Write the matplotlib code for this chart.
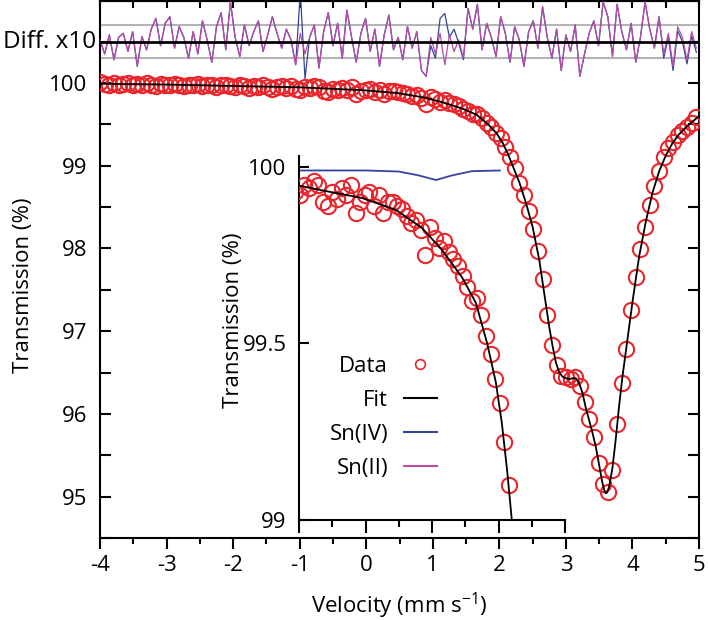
import numpy as np
import matplotlib
matplotlib.use("Agg")
import matplotlib.pyplot as plt
from matplotlib.lines import Line2D
from matplotlib.ticker import MultipleLocator

plt.rcParams['font.family'] = ['Open Sans', 'DejaVu Sans']
plt.rcParams['font.size'] = 16
plt.rcParams['axes.unicode_minus'] = False
plt.rcParams['mathtext.fontset'] = 'custom'
plt.rcParams['mathtext.rm'] = 'Open Sans'
plt.rcParams['mathtext.default'] = 'rm'

# ---------------------------------------------------------------
# Data
# ---------------------------------------------------------------
velocity = [
    -4.00, -3.93, -3.86, -3.79, -3.72, -3.65, -3.58, -3.51, -3.44, -3.37,
    -3.30, -3.23, -3.16, -3.09, -3.02, -2.95, -2.88, -2.81, -2.74, -2.67,
    -2.60, -2.53, -2.46, -2.39, -2.32, -2.25, -2.18, -2.11, -2.04, -1.97,
    -1.90, -1.83, -1.76, -1.69, -1.62, -1.55, -1.48, -1.41, -1.34, -1.27,
    -1.20, -1.13, -1.06, -0.99, -0.92, -0.85, -0.78, -0.71, -0.64, -0.57,
    -0.50, -0.43, -0.36, -0.29, -0.22, -0.15, -0.08, -0.01, 0.06, 0.13,
    0.20, 0.27, 0.34, 0.41, 0.48, 0.55, 0.62, 0.69, 0.76, 0.83,
    0.90, 0.97, 1.04, 1.11, 1.18, 1.25, 1.32, 1.39, 1.46, 1.53,
    1.60, 1.67, 1.74, 1.81, 1.88, 1.95, 2.02, 2.09, 2.16, 2.23,
    2.30, 2.37, 2.44, 2.51, 2.58, 2.65, 2.72, 2.79, 2.86, 2.93,
    3.00, 3.07, 3.14, 3.21, 3.28, 3.35, 3.42, 3.49, 3.56, 3.63,
    3.70, 3.77, 3.84, 3.91, 3.98, 4.05, 4.12, 4.19, 4.26, 4.33,
    4.40, 4.47, 4.54, 4.61, 4.68, 4.75, 4.82, 4.89, 4.96,
]

transmission = [
    100.01, 99.99, 99.97, 100.00, 99.98, 99.99, 100.00, 99.97, 99.99, 99.98,
    100.00, 99.98, 99.96, 99.99, 99.98, 99.97, 99.99, 99.98, 99.96, 99.98,
    99.97, 99.99, 99.96, 99.97, 99.98, 99.95, 99.97, 99.98, 99.96, 99.95,
    99.97, 99.96, 99.94, 99.96, 99.95, 99.97, 99.95, 99.93, 99.95, 99.96,
    99.94, 99.96, 99.93, 99.92, 99.95, 99.94, 99.96, 99.95, 99.90, 99.89,
    99.93, 99.91, 99.94, 99.92, 99.95, 99.87, 99.90, 99.92, 99.93, 99.89,
    99.92, 99.87, 99.90, 99.90, 99.89, 99.88, 99.86, 99.84, 99.85, 99.82,
    99.75, 99.83, 99.80, 99.77, 99.79, 99.76, 99.74, 99.72, 99.69, 99.66,
    99.62, 99.63, 99.58, 99.52, 99.47, 99.40, 99.33, 99.22, 99.10, 98.97,
    98.79, 98.64, 98.45, 98.23, 97.97, 97.63, 97.19, 96.83, 96.59, 96.46,
    96.44, 96.42, 96.44, 96.34, 96.14, 95.94, 95.72, 95.41, 95.15, 95.06,
    95.32, 95.88, 96.37, 96.79, 97.25, 97.66, 97.99, 98.26, 98.53, 98.76,
    98.94, 99.10, 99.21, 99.29, 99.37, 99.42, 99.47, 99.52, 99.59,
]

# fitted envelope
fit_v = [
    -4.0, -3.5, -3.0, -2.5, -2.0, -1.5, -1.0, -0.55, -0.05, 0.46,
    0.85, 1.15, 1.45, 1.66, 1.83, 1.96, 2.05, 2.13, 2.2, 2.3,
    2.4, 2.5, 2.6, 2.7, 2.75, 2.8, 2.85, 2.9, 2.95, 3.0,
    3.05, 3.1, 3.15, 3.2, 3.25, 3.3, 3.4, 3.45, 3.5, 3.55,
    3.58, 3.6, 3.62, 3.65, 3.7, 3.75, 3.8, 3.85, 3.9, 3.95,
    4.0, 4.1, 4.2, 4.3, 4.4, 4.5, 4.6, 4.7, 4.8, 4.9, 5.0,
]
fit_t = [
    99.99, 99.985, 99.98, 99.972, 99.963, 99.955, 99.947, 99.93, 99.912, 99.878,
    99.827, 99.765, 99.688, 99.615, 99.50, 99.39, 99.275, 99.14, 99.0, 98.80,
    98.55, 98.26, 97.86, 97.32, 97.05, 96.82, 96.62, 96.50, 96.45, 96.43,
    96.42, 96.43, 96.43, 96.37, 96.25, 96.07, 95.77, 95.60, 95.38, 95.16,
    95.07, 95.04, 95.05, 95.12, 95.35, 95.70, 96.10, 96.45, 96.75, 97.05,
    97.35, 97.90, 98.32, 98.67, 98.93, 99.12, 99.27, 99.38, 99.46, 99.53, 99.60,
]

# Sn(IV) component shown in the inset
sn4_v = [-1.0, -0.5, 0.0, 0.5, 0.8, 1.06, 1.3, 1.6, 2.02]
sn4_t = [99.99, 99.99, 99.99, 99.987, 99.976, 99.963, 99.976, 99.988, 99.99]

# residuals x10 (one value per velocity channel)
diff_sn2 = [
    0.02, -0.15, 0.08, -0.22, 0.05, 0.10, -0.12, 0.12, -0.30, 0.06,
    -0.10, 0.15, 0.28, -0.05, 0.22, 0.30, -0.08, 0.18, 0.05, -0.20,
    0.12, -0.15, 0.25, 0.02, -0.25, 0.18, 0.35, -0.10, 0.48, 0.05,
    -0.18, 0.20, -0.05, 0.12, 0.25, -0.12, 0.08, 0.30, 0.10, -0.08,
    0.15, 0.02, -0.28, 0.10, -0.15, 0.05, 0.20, -0.32, 0.12, 0.35,
    -0.05, 0.22, -0.20, 0.38, 0.05, -0.25, 0.10, 0.28, -0.12, 0.15,
    -0.30, 0.08, 0.32, -0.10, 0.05, -0.22, 0.18, -0.08, 0.12, -0.35,
    -0.42, 0.05, -0.15, 0.10, -0.28, 0.08, -0.12, 0.02, -0.20, 0.40,
    0.15, 0.45, -0.10, 0.22, 0.05, -0.18, 0.30, 0.10, -0.25, 0.18,
    0.02, -0.30, 0.12, 0.25, -0.08, 0.42, 0.05, -0.20, 0.15, -0.35,
    0.08, -0.12, 0.20, -0.42, -0.15, 0.10, 0.25, -0.05, 0.48, 0.30,
    -0.18, 0.45, 0.12, -0.10, 0.22, -0.25, 0.05, 0.48, 0.15, -0.08,
    0.30, -0.15, 0.10, -0.30, 0.18, 0.05, -0.22, 0.12, -0.08,
]
diff_sn4 = [
    0.02, -0.15, 0.08, -0.22, 0.05, 0.10, -0.12, 0.12, -0.30, 0.06,
    -0.10, 0.15, 0.28, -0.05, 0.22, 0.30, -0.08, 0.18, 0.05, -0.20,
    0.12, -0.15, 0.25, 0.02, -0.25, 0.18, 0.35, -0.10, 0.48, 0.05,
    -0.18, 0.20, -0.05, 0.12, 0.25, -0.12, 0.08, 0.30, 0.10, -0.08,
    0.15, 0.02, -0.28, 0.60, -0.45, 0.05, 0.20, -0.32, 0.12, 0.35,
    -0.05, 0.22, -0.20, 0.38, 0.05, -0.25, 0.10, 0.28, -0.12, 0.15,
    -0.30, 0.08, 0.32, -0.10, 0.05, -0.22, 0.18, -0.08, 0.12, -0.35,
    -0.42, -0.05, -0.20, 0.28, 0.34, 0.05, 0.15, -0.02, -0.22, 0.40,
    0.15, 0.45, -0.10, 0.22, 0.05, -0.18, 0.30, 0.10, -0.25, 0.18,
    0.02, -0.30, 0.12, 0.25, -0.08, 0.42, 0.05, -0.20, 0.15, -0.35,
    0.08, -0.12, 0.20, -0.42, -0.15, 0.10, 0.25, -0.05, 0.48, 0.30,
    -0.18, 0.45, 0.12, -0.10, 0.22, -0.25, 0.05, 0.48, 0.15, -0.08,
    0.30, -0.20, 0.05, -0.35, 0.13, 0.00, -0.27, 0.07, -0.13,
]
diff_offset = 100.5
diff_guides = [-0.2, 0.2]

red = '#e8262c'
blue = '#34449e'
magenta = '#b84ca6'

fig = plt.figure(figsize=(7.08, 6.2), dpi=100)
ax = fig.add_axes([100 / 708, 82 / 620, 599 / 708, 537 / 620])

# difference panel at the top of the main axes
ax.axhline(diff_offset + diff_guides[0], color='#b4b4b4', lw=1.5, zorder=1)
ax.axhline(diff_offset + diff_guides[1], color='#b4b4b4', lw=1.5, zorder=1)
ax.plot(velocity, diff_offset + np.array(diff_sn4), color=blue, lw=0.9, zorder=2)
ax.plot(velocity, diff_offset + np.array(diff_sn2), color=magenta, lw=0.9, zorder=3)
ax.axhline(diff_offset, color='black', lw=2, zorder=4)
ax.text(-0.006, diff_offset, 'Diff. x10', transform=ax.get_yaxis_transform(),
        ha='right', va='center', fontsize=17.5)

ax.plot(velocity, transmission, 'o', ms=11, mfc='none', mec=red, mew=1.5, zorder=5)
ax.plot(fit_v, fit_t, color='black', lw=1.3, zorder=6)

ax.set_xlim(-4, 5)
ax.set_ylim(94.5, 100.99)
ax.set_xticks(range(-4, 6))
ax.set_yticks([95, 96, 97, 98, 99, 100])
ax.set_yticklabels(['95', '96', '97', '98', '99', '100'])
ax.xaxis.set_minor_locator(MultipleLocator(0.5))
ax.yaxis.set_minor_locator(MultipleLocator(0.5))
ax.tick_params(axis='x', which='major', direction='out', length=8, width=1.5, pad=4)
ax.tick_params(axis='x', which='minor', direction='out', length=4, width=1.5)
ax.tick_params(axis='y', which='both', direction='in', length=8, width=1.5,
               right=True, pad=9)
for s in ax.spines.values():
    s.set_linewidth(1.5)

top = ax.secondary_xaxis('top')
top.set_xticks(np.arange(-4, 5.01, 0.5))
top.tick_params(direction='in', length=5, width=1.5, labeltop=False)
top.spines['top'].set_linewidth(1.5)

ax.set_xlabel('Velocity (mm s$^{-1}$)', fontsize=16)
ax.xaxis.set_label_coords(0.5, -0.098)
ax.set_ylabel('Transmission (%)', fontsize=16)
ax.yaxis.set_label_coords(-0.11, 0.47)

# inset: zoom on the Sn(IV) region
ins = fig.add_axes([299 / 708, 100 / 620, 266 / 708, 364 / 620])
ins.patch.set_visible(False)
ins.plot(velocity, transmission, 'o', ms=11, mfc='none', mec=red, mew=1.5, zorder=3)
ins.plot(fit_v, fit_t, color='black', lw=1.3, zorder=4)
ins.plot(sn4_v, sn4_t, color=blue, lw=1.3, zorder=2)
ins.set_xlim(-1, 3)
ins.set_ylim(99, 100.031)
ins.set_xticks(range(-1, 4))
ins.xaxis.set_minor_locator(MultipleLocator(0.5))
ins.set_yticks([99, 99.5, 100])
ins.set_yticklabels(['99', '99.5', '100'])
ins.tick_params(axis='x', which='major', direction='out', length=9, width=1.5,
                labelbottom=False)
ins.tick_params(axis='x', which='minor', direction='out', length=5, width=1.5)
ins.tick_params(axis='y', direction='in', length=7, width=1.5, pad=9)
ins.spines['top'].set_visible(False)
ins.spines['right'].set_visible(False)
ins.spines['left'].set_linewidth(1.5)
ins.spines['bottom'].set_linewidth(1.5)
ins.set_ylabel('Transmission (%)', fontsize=16)
ins.yaxis.set_label_coords(-0.205, 0.55)

handles = [
    Line2D([], [], ls='none', marker='o', ms=7, mfc='none', mec=red, mew=1.2),
    Line2D([], [], color='black', lw=1.5),
    Line2D([], [], color=blue, lw=1.5),
    Line2D([], [], color=magenta, lw=1.5),
]
fig.legend(handles, ['Data', 'Fit', 'Sn(IV)', 'Sn(II)'], loc='upper right',
           bbox_to_anchor=(437 / 708, (620 - 356) / 620), frameon=False,
           markerfirst=False, borderpad=0, borderaxespad=0, handlelength=1.5,
           handletextpad=0.7, labelspacing=0.58, fontsize=16)

fig.savefig('out.png', dpi=100)
